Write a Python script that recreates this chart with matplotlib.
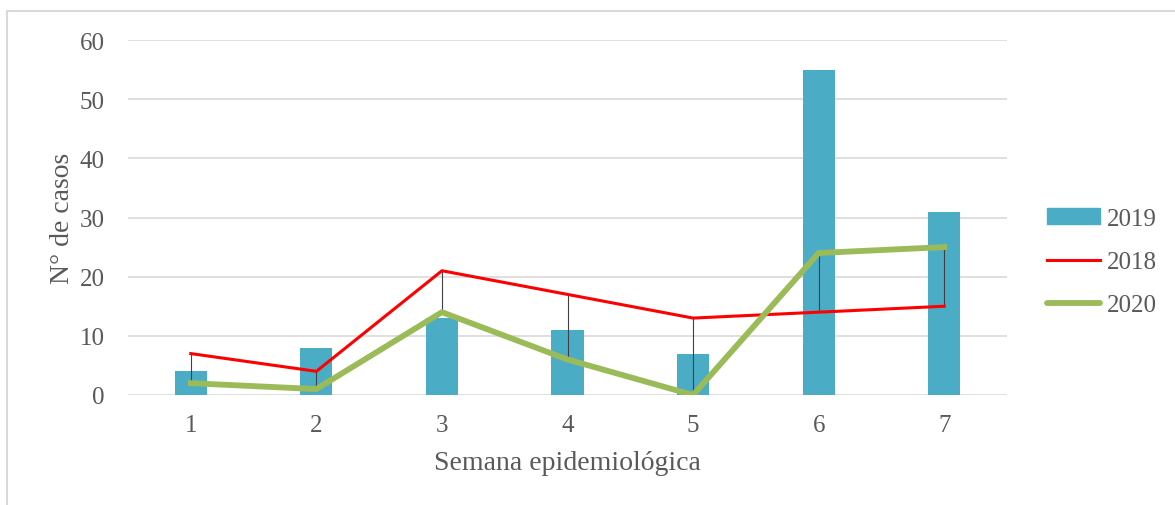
import numpy as np
import matplotlib.pyplot as plt
from matplotlib.patches import Rectangle, Patch
from matplotlib.lines import Line2D

semanas = ['1', '2', '3', '4', '5', '6', '7']
casos_2019 = [4, 8, 13, 11, 7, 55, 31]
casos_2018 = [7, 4, 21, 17, 13, 14, 15]
casos_2020 = [2, 1, 14, 6, 0, 24, 25]

plt.rcParams['font.family'] = ['Liberation Serif', 'DejaVu Serif']
txt = '#595959'

fig = plt.figure(figsize=(11.75, 5.06), dpi=100)
ax = fig.add_axes([128/1175, (506-396)/506, (1007-128)/1175, (396-41)/506])

x = np.arange(len(semanas))
ax.bar(x, casos_2019, width=0.255, color='#4BACC6', zorder=2)
ax.vlines(x, np.minimum(casos_2018, casos_2020), np.maximum(casos_2018, casos_2020),
          color='#404040', lw=0.8, zorder=3)
ax.plot(x, casos_2018, color='#FF0000', lw=2.2, zorder=4)
ax.plot(x, casos_2020, color='#9BBB59', lw=4.2, zorder=5)

ax.set_xlim(-0.5, 6.5)
ax.set_ylim(0, 60)
ax.set_yticks(range(0, 61, 10))
ax.set_xticks(x)
ax.set_xticklabels(semanas)
ax.grid(axis='y', color='#D9D9D9', lw=1.2, zorder=0)
ax.set_axisbelow(True)
for s in ax.spines.values():
    s.set_visible(False)
ax.tick_params(length=0, labelsize=18, colors=txt)
ax.tick_params(axis='x', pad=14)
ax.tick_params(axis='y', pad=17)
ax.set_xlabel('Semana epidemiológica', fontsize=20, color=txt, labelpad=10)
ax.set_ylabel('N° de casos', fontsize=20, color=txt, labelpad=3)

handles = [Patch(color='#4BACC6'),
           Line2D([], [], color='#FF0000', lw=2.2),
           Line2D([], [], color='#9BBB59', lw=4.2, solid_capstyle='round')]
fig.legend(handles, ['2019', '2018', '2020'], loc='center left',
           bbox_to_anchor=(1047/1175, 1 - 263/506), frameon=False,
           borderpad=0, borderaxespad=0,
           fontsize=18, labelcolor=txt, handlelength=2.1, handleheight=0.6,
           handletextpad=0.3, labelspacing=0.85)

fig.patches.append(Rectangle((7/1175, -0.1), 1.2, 1 - 12/506 + 0.1,
                             transform=fig.transFigure, fill=False,
                             edgecolor='#D9D9D9', lw=1.5))

fig.savefig('out.png', dpi=100)
